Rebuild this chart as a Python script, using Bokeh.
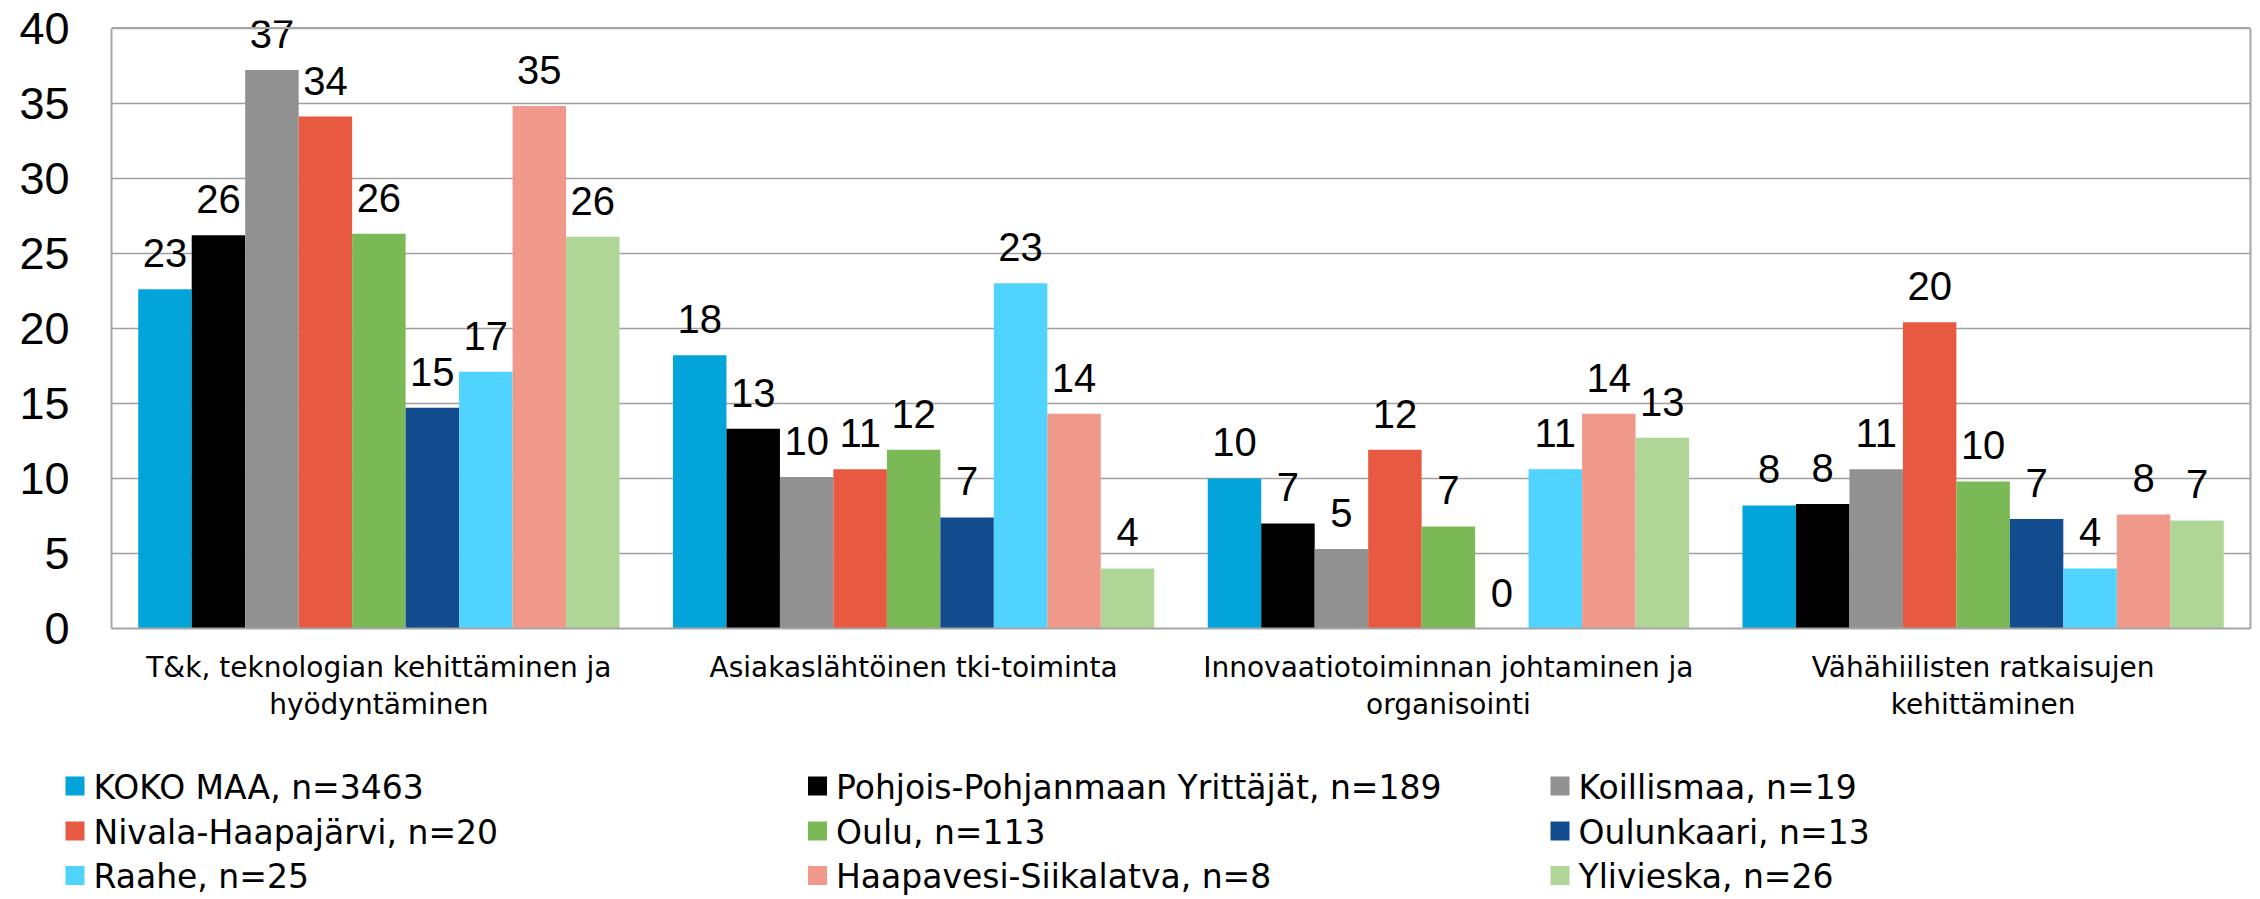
from bokeh.plotting import figure
from bokeh.models import (ColumnDataSource, Range1d, FixedTicker, LabelSet,
                          LinearAxis, Span)
from bokeh.transform import dodge
from bokeh.core.properties import value
from bokeh.embed import file_html
from bokeh.resources import INLINE

categories = [
    "T&k, teknologian kehittäminen ja\nhyödyntäminen",
    "Asiakaslähtöinen tki-toiminta",
    "Innovaatiotoiminnan johtaminen ja\norganisointi",
    "Vähähiilisten ratkaisujen\nkehittäminen",
]
series_names = [
    "KOKO MAA, n=3463",
    "Pohjois-Pohjanmaan Yrittäjät, n=189",
    "Koillismaa, n=19",
    "Nivala-Haapajärvi, n=20",
    "Oulu, n=113",
    "Oulunkaari, n=13",
    "Raahe, n=25",
    "Haapavesi-Siikalatva, n=8",
    "Ylivieska, n=26",
]
koko_maa = [22.6, 18.2, 10.0, 8.2]
pohjois_pohjanmaa = [26.2, 13.3, 7.0, 8.3]
koillismaa = [37.2, 10.1, 5.3, 10.6]
nivala_haapajarvi = [34.1, 10.6, 11.9, 20.4]
oulu = [26.3, 11.9, 6.8, 9.8]
oulunkaari = [14.7, 7.4, 0.0, 7.3]
raahe = [17.1, 23.0, 10.6, 4.0]
haapavesi_siikalatva = [34.8, 14.3, 14.3, 7.6]
ylivieska = [26.1, 4.0, 12.7, 7.2]
series_values = [koko_maa, pohjois_pohjanmaa, koillismaa, nivala_haapajarvi, oulu,
                 oulunkaari, raahe, haapavesi_siikalatva, ylivieska]
colors = ["#03A4DA", "#000000", "#919191", "#E85942", "#7AB956",
          "#134B8F", "#51D3FF", "#F0998A", "#B0D697"]
y_ticks = [0, 5, 10, 15, 20, 25, 30, 35, 40]

NUM_FONT = "Liberation Sans"
TXT_FONT = "DejaVu Sans"
BORDER = "#A6A6A6"

W = 2260
MAIN_H, LEG_H = 740, 158
TOP, FRAME_H = 20, 608
BL, BR = 111, 10
Y_MAX, Y_TOP = 40, 40.5   # a little headroom so the tallest label is not cut

p = figure(width=W, height=MAIN_H, output_backend="svg", toolbar_location=None,
           x_range=Range1d(-0.5, 3.5), y_range=Range1d(0, Y_TOP),
           min_border_left=BL, min_border_right=BR, min_border_top=TOP,
           min_border_bottom=MAIN_H - TOP - FRAME_H)
p.background_fill_color = "white"
p.border_fill_color = "white"
p.outline_line_color = None

n = len(series_names)
bw = 1.0 / (n + 1)
for j, (name, vals, col) in enumerate(zip(series_names, series_values, colors)):
    src = ColumnDataSource(dict(x=list(range(len(categories))), top=vals,
                                lab=[f"{v:.0f}" for v in vals]))
    off = (j - (n - 1) / 2) * bw
    p.vbar(x=dodge("x", off, range=p.x_range), top="top", width=bw, source=src,
           fill_color=col, line_color=None)
    p.add_layout(LabelSet(x=dodge("x", off, range=p.x_range), y="top", text="lab",
                          source=src, text_align="center", text_baseline="middle",
                          y_offset=36, text_font=value(NUM_FONT),
                          text_font_size="40px", text_color="black"))

p.xgrid.visible = False
p.ygrid.grid_line_color = "#A0A0A0"
p.ygrid.grid_line_width = 1.5
p.ygrid.ticker = FixedTicker(ticks=y_ticks)
p.add_layout(Span(location=Y_MAX, dimension="width", line_color=BORDER, line_width=2))

p.yaxis.ticker = FixedTicker(ticks=y_ticks)
p.yaxis.bounds = (0, Y_MAX)
p.yaxis.axis_line_color = BORDER
p.yaxis.axis_line_width = 2
p.yaxis.major_tick_line_color = None
p.yaxis.minor_tick_line_color = None
p.yaxis.major_tick_out = 0
p.yaxis.major_tick_in = 0
p.yaxis.major_label_standoff = 42
p.yaxis.major_label_text_font = NUM_FONT
p.yaxis.major_label_text_font_size = "45px"
p.yaxis.major_label_text_color = "black"

right = LinearAxis(ticker=FixedTicker(ticks=[]), bounds=(0, Y_MAX),
                   axis_line_color=BORDER, axis_line_width=2,
                   major_tick_line_color=None, minor_tick_line_color=None,
                   major_tick_out=0, major_tick_in=0)
p.add_layout(right, "right")

p.xaxis.ticker = FixedTicker(ticks=list(range(len(categories))))
p.xaxis.major_label_overrides = {i: c for i, c in enumerate(categories)}
p.xaxis.axis_line_color = BORDER
p.xaxis.axis_line_width = 2
p.xaxis.major_tick_line_color = None
p.xaxis.minor_tick_line_color = None
p.xaxis.major_tick_out = 0
p.xaxis.major_tick_in = 0
p.xaxis.major_label_standoff = 22
p.xaxis.major_label_text_font = TXT_FONT
p.xaxis.major_label_text_font_size = "28px"
p.xaxis.major_label_text_color = "black"
p.xaxis.major_label_text_line_height = 1.15

# legend panel below the chart: its data units are page pixels
lg = figure(width=W, height=LEG_H, output_backend="svg", toolbar_location=None,
            x_axis_type=None, y_axis_type=None, min_border=0,
            x_range=Range1d(0, W), y_range=Range1d(MAIN_H + LEG_H, MAIN_H))
lg.grid.visible = False
lg.outline_line_color = None
lg.background_fill_color = "white"
lg.border_fill_color = "white"

col_left = [65, 807.5, 1550]
row_mid = [785.5, 830.5, 875]
sq = 19
lx, ly, tx, ty = [], [], [], []
for i in range(n):
    c, r = i % 3, i // 3
    lx.append(col_left[c] + sq / 2)
    ly.append(row_mid[r])
    tx.append(col_left[c] + 28)
    ty.append(row_mid[r] + 1)
lg.rect(x=lx, y=ly, width=sq, height=sq, fill_color=colors, line_color=None)
lg.text(x=tx, y=ty, text=series_names, text_align="left", text_baseline="middle",
        text_font=value(TXT_FONT), text_font_size="33px", text_color="black")

open("out.html", "w").write(file_html([p, lg], INLINE))
